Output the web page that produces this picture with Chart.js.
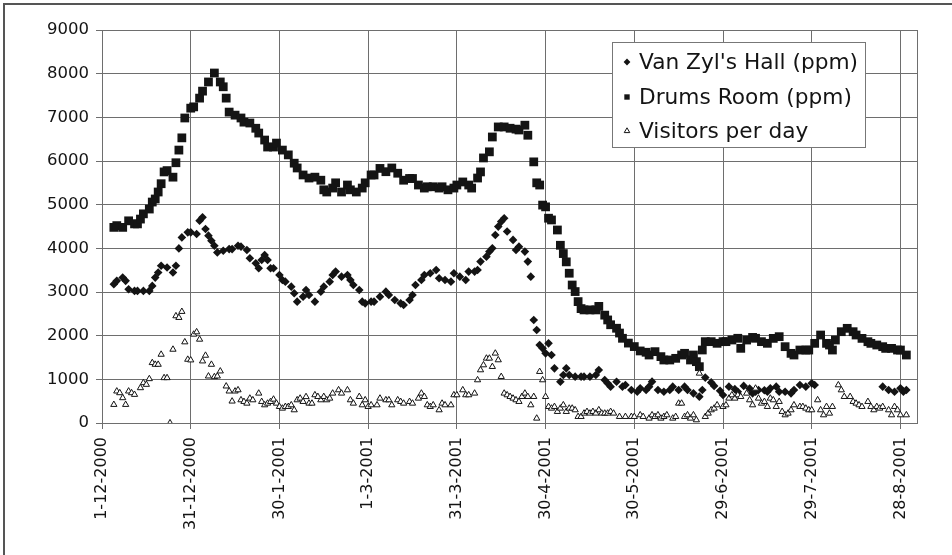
<!DOCTYPE html>
<html>
<head>
<meta charset="utf-8">
<script src="https://cdn.jsdelivr.net/npm/chart.js@4/dist/chart.umd.min.js"></script>
<style>
  html, body { margin: 0; padding: 0; background: #fff; }
  #wrap { position: relative; width: 952px; height: 555px; }
</style>
</head>
<body>
<div id="wrap"><canvas id="chart" width="952" height="555"></canvas></div>
<script>
// x is days since 1-12-2000
var xTickDays = [0, 30, 60, 90, 120, 150, 180, 210, 240, 270];
var xTickLabels = ['1-12-2000', '31-12-2000', '30-1-2001', '1-3-2001', '31-3-2001',
  '30-4-2001', '30-5-2001', '29-6-2001', '29-7-2001', '28-8-2001'];
var yTickLabels = ['0', '1000', '2000', '3000', '4000', '5000', '6000', '7000', '8000', '9000'];
var seriesNames = ["Van Zyl's Hall (ppm)", 'Drums Room (ppm)', 'Visitors per day'];

// Van Zyl's Hall (ppm)
var hallDays = [4, 5, 7, 8, 9, 11, 12, 14, 16, 17, 18, 19, 20, 22, 24, 25, 26, 27, 29, 30,
  32, 33, 34, 35, 36, 37, 38, 39, 41, 43, 44, 46, 47, 49, 50, 52, 53, 54, 55, 56,
  57, 58, 60, 61, 62, 64, 65, 66, 68, 69, 70, 72, 74, 75, 77, 78, 79, 81, 83, 84,
  85, 87, 88, 89, 91, 92, 94, 96, 97, 99, 101, 102, 104, 105, 106, 108, 109, 111, 113, 114,
  116, 118, 119, 121, 123, 124, 126, 127, 128, 130, 131, 132, 133, 134, 135, 136, 137, 139, 140, 141,
  143, 144, 145, 146, 147, 148, 149, 150, 151, 152, 153, 155, 156, 157, 158, 160, 162, 163, 165, 167,
  168, 170, 171, 172, 174, 176, 177, 179, 181, 182, 184, 185, 186, 188, 190, 192, 193, 195, 197, 198,
  200, 202, 203, 204, 206, 207, 209, 210, 212, 214, 215, 217, 219, 220, 221, 222, 224, 225, 226, 228,
  229, 231, 233, 234, 236, 238, 240, 241,
  264, 266, 268, 270, 271, 272];
var hallPpm = [3180, 3255, 3330, 3255, 3064, 3025, 3025, 3025, 3025, 3140, 3330, 3447, 3600, 3560, 3447, 3600, 3998, 4250, 4366, 4366,
  4328, 4634, 4710, 4443, 4290, 4175, 4060, 3907, 3945, 3983, 3983, 4060, 4039, 3963, 3772, 3657, 3543, 3734, 3848, 3734,
  3543, 3543, 3390, 3275, 3237, 3122, 2970, 2779, 2893, 3046, 2931, 2779, 3008, 3122, 3237, 3390, 3467, 3352, 3390, 3275,
  3160, 3046, 2779, 2740, 2779, 2779, 2893, 3008, 2931, 2817, 2740, 2702, 2817, 2931, 3160, 3275, 3390, 3428, 3505, 3314,
  3275, 3237, 3428, 3352, 3275, 3467, 3467, 3505, 3696, 3810, 3925, 4001, 4307, 4498, 4612, 4689, 4384, 4193, 3963, 4039,
  3925, 3696, 3352, 2359, 2130, 1786, 1710, 1595, 1824, 1557, 1251, 946, 1099, 1251, 1099, 1061, 1061, 1061, 1061, 1099,
  1213, 985, 908, 832, 946, 832, 870, 755, 717, 794, 756, 832, 947, 756, 717, 756, 832, 756, 832, 756,
  679, 603, 756, 1040, 930, 850, 740, 641, 832, 775, 717, 850, 790, 679, 717, 756, 750, 717, 794, 832,
  717, 717, 679, 755, 870, 832, 908, 870,
  832, 755, 717, 794, 717, 755];

// Drums Room (ppm)
var drumsDays = [4, 5, 7, 9, 11, 12, 13, 14, 16, 17, 18, 19, 20, 21, 22, 24, 25, 26, 27, 28,
  30, 31, 33, 34, 36, 38, 40, 41, 42, 43, 45, 47, 48, 50, 52, 53, 55, 56, 58, 59,
  61, 63, 65, 66, 68, 70, 72, 74, 75, 76, 78, 79, 81, 83, 84, 86, 88, 89, 91, 92,
  94, 96, 98, 100, 102, 104, 105, 107, 109, 110, 112, 114, 115, 117, 119, 120, 122, 124, 125, 127,
  128, 129, 131, 132, 134, 136, 138, 140, 141, 143, 144, 146, 147, 148, 149, 150, 151, 152, 154, 155,
  156, 157, 158, 159, 160, 161, 162, 163, 165, 167, 168, 170, 171, 172, 174, 175, 176, 178, 180, 182,
  184, 185, 187, 189, 190, 192, 194, 196, 197, 199, 200, 201, 202, 203, 204, 206, 208, 210, 211, 213,
  215, 216, 218, 220, 221, 223, 225, 227, 229, 231, 233, 234, 236, 238, 239, 241, 243, 245, 246, 247,
  248, 250, 252, 254, 255, 257, 259, 260, 262, 264, 265, 267, 269, 270, 272];
var drumsPpm = [4480, 4520, 4480, 4630, 4560, 4560, 4670, 4790, 4900, 5060, 5130, 5290, 5480, 5750, 5780, 5630, 5960, 6250, 6530, 6985,
  7210, 7240, 7440, 7600, 7810, 8015, 7810, 7700, 7440, 7120, 7050, 6985, 6890, 6870, 6750, 6640, 6480, 6320, 6320, 6410,
  6250, 6140, 5950, 5840, 5680, 5610, 5630, 5560, 5340, 5290, 5380, 5500, 5290, 5450, 5340, 5290, 5380, 5500, 5680, 5680,
  5830, 5755, 5840, 5720, 5560, 5600, 5600, 5450, 5380, 5410, 5410, 5380, 5410, 5340, 5380, 5450, 5520, 5450, 5380, 5610,
  5750, 6070, 6210, 6550, 6780, 6780, 6750, 6730, 6710, 6820, 6590, 5980, 5500, 5450, 4990, 4950, 4690, 4650, 4420, 4070,
  3880, 3690, 3430, 3160, 3010, 2780, 2620, 2590, 2590, 2590, 2670, 2470, 2360, 2250, 2170, 2060, 1940, 1830, 1750, 1650,
  1620, 1557, 1634, 1520, 1443, 1443, 1481, 1557, 1596, 1443, 1557, 1405, 1290, 1672, 1863, 1863, 1825, 1863, 1863, 1901,
  1940, 1710, 1900, 1960, 1940, 1863, 1825, 1938, 1977, 1748, 1595, 1557, 1671, 1671, 1671, 1824, 2015, 1824, 1786, 1671,
  1900, 2091, 2168, 2091, 2015, 1938, 1862, 1824, 1786, 1748, 1709, 1709, 1671, 1671, 1557];

// Visitors per day
var visitDays = [4, 5, 6, 7, 8, 9, 10, 11, 13, 14, 15, 16, 17, 18, 19, 20, 21, 22, 23, 24,
  25, 26, 27, 28, 29, 30, 31, 32, 33, 34, 35, 36, 37, 38, 39, 40, 42, 43, 44, 45,
  46, 47, 48, 49, 50, 51, 53, 54, 55, 56, 57, 58, 59, 60, 61, 62, 63, 64, 65, 66,
  67, 68, 69, 70, 71, 72, 73, 74, 75, 76, 77, 78, 80, 81, 83, 84, 85, 87, 88, 89,
  90, 91, 93, 94, 96, 97, 98, 100, 101, 102, 104, 105, 107, 108, 109, 110, 111, 112, 114, 115,
  116, 118, 119, 120, 122, 123, 124, 126, 127, 128, 129, 130, 131, 132, 133, 134, 135, 136, 137, 138,
  139, 140, 141, 142, 143, 144, 145, 146, 147, 148, 149, 150, 151, 152, 153, 154, 155, 156, 157, 158,
  159, 160, 161, 162, 163, 164, 165, 166, 167, 168, 169, 170, 171, 172, 173, 175, 177, 179, 180, 182,
  183, 185, 186, 187, 188, 189, 190, 191, 193, 194, 195, 196, 197, 198, 199, 200, 201, 202, 204, 205,
  206, 207, 208, 210, 211, 212, 213, 214, 215, 216, 218, 219, 220, 221, 222, 223, 224, 225, 226, 227,
  228, 229, 230, 231, 232, 233, 234, 236, 237, 238, 239, 240, 242, 243, 244, 245, 246, 247, 249, 250,
  251, 253, 254, 255, 256, 257, 259, 260, 261, 262, 263, 264, 266, 267, 268, 269, 270, 272];
var visitors = [421, 728, 689, 575, 421, 728, 689, 651, 804, 919, 881, 1011, 1379, 1340, 1340, 1570, 1034, 1034, 0, 1685,
  2451, 2413, 2551, 1854, 1455, 1440, 2030, 2084, 1915, 1417, 1547, 1072, 1340, 1057, 1072, 1187, 843, 728, 498, 728,
  756, 527, 489, 450, 565, 527, 680, 489, 412, 450, 488, 542, 450, 374, 336, 374, 374, 412, 298, 527,
  565, 489, 600, 450, 450, 642, 603, 527, 603, 527, 565, 680, 756, 680, 756, 527, 450, 603, 412, 527,
  374, 412, 412, 565, 527, 527, 412, 527, 489, 450, 489, 450, 565, 680, 603, 412, 374, 412, 298, 450,
  412, 412, 642, 642, 756, 642, 642, 680, 985, 1214, 1328, 1481, 1481, 1290, 1596, 1443, 1061, 680, 641, 603,
  565, 527, 489, 603, 680, 603, 412, 603, 107, 1176, 985, 603, 374, 336, 374, 260, 336, 412, 260, 336,
  336, 298, 145, 145, 222, 260, 222, 260, 222, 298, 222, 222, 222, 260, 222, 145, 145, 145, 145, 183,
  145, 107, 183, 145, 183, 107, 145, 183, 107, 145, 450, 450, 145, 183, 107, 183, 69, 1137, 145, 221,
  298, 336, 412, 374, 412, 565, 641, 565, 641, 603, 679, 527, 412, 794, 565, 450, 489, 374, 565, 527,
  374, 489, 260, 183, 221, 298, 412, 374, 374, 336, 298, 298, 527, 298, 183, 374, 221, 374, 870, 755,
  603, 603, 489, 450, 412, 374, 489, 374, 298, 374, 336, 374, 298, 183, 374, 298, 183, 183];

function toPoints(days, values) {
  return days.map(function (d, i) { return { x: d, y: values[i] }; });
}

var ink = '#141414';
var gridColor = '#6e6e6e';
var font = 'DejaVu Sans';

// chart area frame, page frame and the boxed legend
var framePlugin = {
  id: 'frames',
  beforeDraw: function (chart) {
    var ctx = chart.ctx;
    ctx.save();
    ctx.fillStyle = '#fff';
    ctx.fillRect(0, 0, chart.width, chart.height);
    ctx.strokeStyle = '#555';
    ctx.lineWidth = 2;
    ctx.beginPath();
    ctx.moveTo(4, chart.height);
    ctx.lineTo(4, 4);
    ctx.lineTo(chart.width, 4);
    ctx.stroke();
    ctx.restore();
  },
  afterDatasetsDraw: function (chart) {
    var ctx = chart.ctx, a = chart.chartArea;
    ctx.save();
    ctx.strokeStyle = gridColor;
    ctx.lineWidth = 1;
    ctx.strokeRect(a.left + 0.5, a.top + 0.5, a.right - a.left, a.bottom - a.top);

    // legend box
    var bx = 612, by = 42, bw = 253, bh = 105;
    ctx.fillStyle = '#fff';
    ctx.fillRect(bx, by, bw, bh);
    ctx.strokeStyle = '#777';
    ctx.strokeRect(bx + 0.5, by + 0.5, bw, bh);

    var rows = [
      { style: 'rectRot', r: 3.4, fill: ink, bw: 0 },
      { style: 'rect', r: 3.8, fill: ink, bw: 0 },
      { style: 'triangle', r: 3.2, fill: '#fff', bw: 1 }
    ];
    var rowY = [62, 97, 131];
    ctx.font = '21.7px "' + font + '"';
    ctx.textBaseline = 'middle';
    ctx.textAlign = 'left';
    rows.forEach(function (row, i) {
      ctx.fillStyle = row.fill;
      ctx.strokeStyle = ink;
      ctx.lineWidth = 1;
      Chart.helpers.drawPoint(ctx, { pointStyle: row.style, radius: row.r, rotation: 0, borderWidth: row.bw }, 627, rowY[i]);
      ctx.fillStyle = ink;
      ctx.fillText(seriesNames[i], 639, rowY[i] + 1);
    });
    ctx.restore();
  }
};

new Chart(document.getElementById('chart'), {
  type: 'scatter',
  data: {
    datasets: [
      {
        label: seriesNames[2],
        data: toPoints(visitDays, visitors),
        pointStyle: 'triangle',
        pointRadius: 3.6,
        backgroundColor: '#fff',
        borderColor: ink,
        borderWidth: 1,
        order: 0
      },
      {
        label: seriesNames[0],
        data: toPoints(hallDays, hallPpm),
        pointStyle: 'rectRot',
        pointRadius: 4.3,
        backgroundColor: ink,
        borderColor: ink,
        borderWidth: 0,
        order: 1
      },
      {
        label: seriesNames[1],
        data: toPoints(drumsDays, drumsPpm),
        pointStyle: 'rect',
        pointRadius: 6.2,
        backgroundColor: ink,
        borderColor: ink,
        borderWidth: 0,
        order: 2
      }
    ]
  },
  options: {
    responsive: false,
    animation: false,
    devicePixelRatio: 1,
    layout: { padding: { left: 0, right: 35, top: 30, bottom: 0 } },
    plugins: {
      legend: { display: false },
      tooltip: { enabled: false }
    },
    scales: {
      x: {
        type: 'linear',
        min: 0,
        max: 275.6,
        afterBuildTicks: function (axis) {
          axis.ticks = xTickDays.map(function (d) { return { value: d }; });
        },
        afterFit: function (axis) { axis.height = 132; },
        ticks: {
          autoSkip: false,
          minRotation: 90,
          maxRotation: 90,
          padding: 8,
          color: ink,
          font: { family: font, size: 16 },
          callback: function (v) { return xTickLabels[xTickDays.indexOf(v)]; }
        },
        grid: { color: gridColor, lineWidth: 1, tickLength: 6 },
        border: { color: '#444', width: 1 }
      },
      y: {
        min: 0,
        max: 9000,
        afterFit: function (axis) { axis.width = 102; },
        ticks: {
          stepSize: 1000,
          padding: 7,
          color: ink,
          font: { family: font, size: 16.5 },
          callback: function (v) { return yTickLabels[Math.round(v / 1000)]; }
        },
        grid: { color: gridColor, lineWidth: 1, tickLength: 6 },
        border: { color: '#444', width: 1 }
      }
    }
  },
  plugins: [framePlugin]
});
</script>
</body>
</html>
